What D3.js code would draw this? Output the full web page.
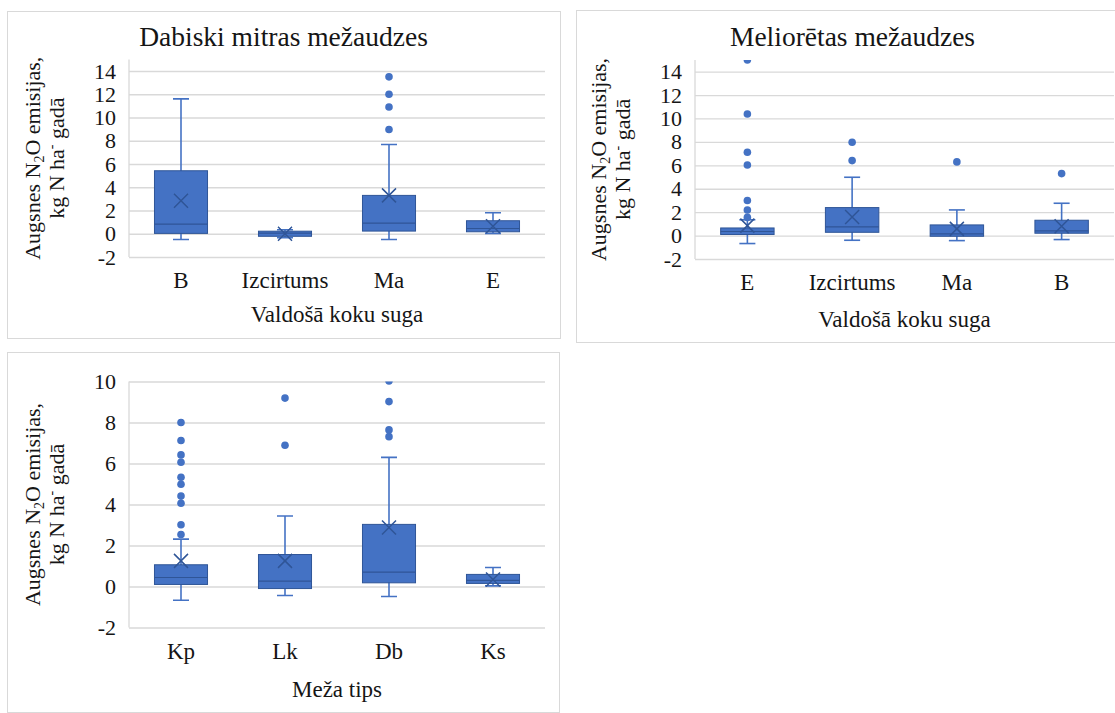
<!DOCTYPE html>
<html lang='lv'>
<head>
	<meta charset='UTF-8'/>
	<title>N2O emisijas</title>
	<script src='https://cdnjs.cloudflare.com/ajax/libs/d3/7.8.5/d3.min.js'></script>
	<style>
		body {margin: 0; background: #fff;}
		svg {display: block;}
		svg text {font-family: 'Liberation Serif', 'Times New Roman', 'DejaVu Serif', serif;}
	</style>
</head>
<body>
	<div class='graph'></div>
	<script>
		// --- data (kg N ha-1 gadā) ---
		// panel 1: Dabiski mitras mežaudzes
		const p1Categories = ['B', 'Izcirtums', 'Ma', 'E'];
		const p1Low    = [-0.49, -0.35, -0.49, 0.03];
		const p1Q1     = [0.03, -0.22, 0.23, 0.17];
		const p1Median = [0.83, 0.05, 0.92, 0.45];
		const p1Q3     = [5.42, 0.22, 3.3, 1.12];
		const p1High   = [11.6, 0.35, 7.68, 1.81];
		const p1Mean   = [2.84, 0.0, 3.3, 0.65];
		const p1Outliers = [[], [], [8.97, 10.9, 12.0, 13.5], []];

		// panel 2: Meliorētas mežaudzes
		const p2Categories = ['E', 'Izcirtums', 'Ma', 'B'];
		const p2Low    = [-0.68, -0.4, -0.43, -0.34];
		const p2Q1     = [0.09, 0.28, -0.06, 0.2];
		const p2Median = [0.35, 0.74, 0.15, 0.4];
		const p2Q3     = [0.65, 2.39, 0.91, 1.31];
		const p2High   = [1.35, 4.98, 2.19, 2.76];
		const p2Mean   = [0.85, 1.59, 0.57, 0.8];
		const p2Outliers = [[1.55, 2.19, 2.99, 6.03, 7.11, 10.38, 15.0], [6.4, 7.97], [6.29], [5.29]];

		// panel 3: meža tips
		const p3Categories = ['Kp', 'Lk', 'Db', 'Ks'];
		const p3Low    = [-0.67, -0.44, -0.49, 0.03];
		const p3Q1     = [0.1, -0.1, 0.18, 0.15];
		const p3Median = [0.44, 0.26, 0.7, 0.3];
		const p3Q3     = [1.06, 1.56, 3.03, 0.59];
		const p3High   = [2.31, 3.44, 6.3, 0.93];
		const p3Mean   = [1.25, 1.25, 2.88, 0.34];
		const p3Outliers = [[2.54, 3.01, 4.06, 4.41, 4.99, 5.33, 6.06, 6.42, 7.12, 8.0], [6.89, 9.19], [7.31, 7.64, 9.02, 10.03], []];

		const ticks15 = [-2, 0, 2, 4, 6, 8, 10, 12, 14];
		const ticks10 = [-2, 0, 2, 4, 6, 8, 10];

		const width = 1115, height = 713;
		const BLUE = '#4472C4', DARK = '#2F5597', GRID = '#d9d9d9', INK = '#151515';
		const TICK_FONT = 22, CAT_FONT = 23, TITLE_FONT = 27.5;
		const SERIF = "'Liberation Serif', 'Times New Roman', 'DejaVu Serif', serif";

		function rows(cats, low, q1, med, q3, high, mean, out) {
			return cats.map((c, i) => ({cat: c, low: low[i], q1: q1[i], med: med[i], q3: q3[i], high: high[i], mean: mean[i], out: out[i]}));
		}

		const panels = [
			{frame: [7, 11, 553, 327], x: [129, 545], y: [257, 59.4], domain: [-2, 15], ticks: ticks15,
				title: 'Dabiski mitras mežaudzes', titleY: 46, xTitle: 'Valdošā koku suga', xTitleY: 322,
				cats: p1Categories, rows: rows(p1Categories, p1Low, p1Q1, p1Median, p1Q3, p1High, p1Mean, p1Outliers)},
			{frame: [576, 10, 553, 332], x: [695, 1114], y: [259, 59.9], domain: [-2, 15], ticks: ticks15,
				title: 'Meliorētas mežaudzes', titleY: 46, xTitle: 'Valdošā koku suga', xTitleY: 327,
				cats: p2Categories, rows: rows(p2Categories, p2Low, p2Q1, p2Median, p2Q3, p2High, p2Mean, p2Outliers)},
			{frame: [7, 352, 552, 360], x: [129, 545], y: [627.5, 381.5], domain: [-2, 10], ticks: ticks10,
				title: null, xTitle: 'Meža tips', xTitleY: 697,
				cats: p3Categories, rows: rows(p3Categories, p3Low, p3Q1, p3Median, p3Q3, p3High, p3Mean, p3Outliers)}
		];

		const svg = d3.select('.graph')
			.append('svg')
			.attr('width', width)
			.attr('height', height)
			.attr('font-family', SERIF);

		svg.append('rect').attr('width', width).attr('height', height).attr('fill', '#fff');

		panels.forEach((p, pi) => {
			const g = svg.append('g');
			const [fx, fy, fw, fh] = p.frame;

			g.append('rect')
				.attr('x', fx + 0.5).attr('y', fy + 0.5)
				.attr('width', fw).attr('height', fh)
				.attr('fill', '#fff')
				.attr('stroke', GRID);

			const yScale = d3.scaleLinear().domain(p.domain).range(p.y);
			const xScale = d3.scaleBand().domain(p.cats).range(p.x);
			const bw = xScale.bandwidth();
			const boxW = bw * 0.51;
			const cx = d => xScale(d.cat) + bw / 2;

			// gridlines + tick labels
			const yAxis = g.append('g')
				.attr('transform', 'translate(' + p.x[0] + ',0)')
				.call(d3.axisLeft(yScale).tickValues(p.ticks).tickSize(-(p.x[1] - p.x[0])).tickPadding(13)
					.tickFormat(d => String(d)));
			yAxis.attr('font-family', SERIF).attr('font-size', TICK_FONT);
			yAxis.select('.domain').remove();
			yAxis.selectAll('line').attr('stroke', GRID).attr('stroke-width', 1.3);
			yAxis.selectAll('text').attr('fill', INK);

			// vertical axis line
			g.append('line')
				.attr('x1', p.x[0]).attr('x2', p.x[0])
				.attr('y1', yScale(p.domain[1])).attr('y2', yScale(p.domain[0]))
				.attr('stroke', GRID).attr('stroke-width', 1.3);

			// category labels
			const xAxis = g.append('g')
				.attr('transform', 'translate(0,' + yScale(p.domain[0]) + ')')
				.call(d3.axisBottom(xScale).tickSize(0).tickPadding(15));
			xAxis.attr('font-family', SERIF).attr('font-size', CAT_FONT);
			xAxis.select('.domain').remove();
			xAxis.selectAll('text').attr('fill', INK);

			// titles
			if (p.title) {
				g.append('text')
					.attr('x', fx + fw / 2).attr('y', p.titleY)
					.attr('text-anchor', 'middle')
					.attr('font-size', TITLE_FONT).attr('fill', INK)
					.text(p.title);
			}
			g.append('text')
				.attr('x', (p.x[0] + p.x[1]) / 2).attr('y', p.xTitleY)
				.attr('text-anchor', 'middle')
				.attr('font-size', CAT_FONT).attr('fill', INK)
				.text(p.xTitle);

			// rotated y title, two lines
			const cy = (p.y[0] + p.y[1]) / 2;
			const t1 = g.append('text')
				.attr('transform', 'translate(' + (p.x[0] - 89) + ',' + cy + ') rotate(-90)')
				.attr('text-anchor', 'middle')
				.attr('font-size', TICK_FONT).attr('fill', INK);
			t1.append('tspan').text('Augsnes N');
			t1.append('tspan').attr('font-size', 14).attr('dy', 4).text('2');
			t1.append('tspan').attr('dy', -4).text('O emisijas,');
			const t2 = g.append('text')
				.attr('transform', 'translate(' + (p.x[0] - 65) + ',' + cy + ') rotate(-90)')
				.attr('text-anchor', 'middle')
				.attr('font-size', TICK_FONT).attr('fill', INK);
			t2.append('tspan').text('kg N ha');
			t2.append('tspan').attr('font-size', 14).attr('dy', -8).text('-');
			t2.append('tspan').attr('dy', 8).text(' gadā');

			// clip for marks
			const clipId = 'clip' + pi;
			svg.append('clipPath').attr('id', clipId)
				.append('rect')
				.attr('x', p.x[0]).attr('y', yScale(p.domain[1]))
				.attr('width', p.x[1] - p.x[0]).attr('height', yScale(p.domain[0]) - yScale(p.domain[1]));

			const marks = g.append('g').attr('clip-path', 'url(#' + clipId + ')');
			const box = marks.selectAll('g.box')
				.data(p.rows)
				.enter()
				.append('g')
				.attr('class', 'box');

			// whiskers
			box.append('line')
				.attr('x1', cx).attr('x2', cx)
				.attr('y1', d => yScale(d.high)).attr('y2', d => yScale(d.low))
				.attr('stroke', BLUE).attr('stroke-width', 1.6);
			['high', 'low'].forEach(k => {
				box.append('line')
					.attr('x1', d => cx(d) - 8).attr('x2', d => cx(d) + 8)
					.attr('y1', d => yScale(d[k])).attr('y2', d => yScale(d[k]))
					.attr('stroke', BLUE).attr('stroke-width', 1.6);
			});

			// boxes
			box.append('rect')
				.attr('x', d => cx(d) - boxW / 2)
				.attr('y', d => yScale(d.q3))
				.attr('width', boxW)
				.attr('height', d => yScale(d.q1) - yScale(d.q3))
				.attr('fill', BLUE)
				.attr('stroke', DARK).attr('stroke-width', 1);

			// median
			box.append('line')
				.attr('x1', d => cx(d) - boxW / 2).attr('x2', d => cx(d) + boxW / 2)
				.attr('y1', d => yScale(d.med)).attr('y2', d => yScale(d.med))
				.attr('stroke', DARK).attr('stroke-width', 1.2);

			// mean marker (x)
			box.append('path')
				.attr('d', d => {
					const x = cx(d), y = yScale(d.mean), s = 7;
					return 'M' + (x - s) + ',' + (y - s) + 'L' + (x + s) + ',' + (y + s) +
						'M' + (x - s) + ',' + (y + s) + 'L' + (x + s) + ',' + (y - s);
				})
				.attr('stroke', DARK).attr('stroke-width', 1.5).attr('fill', 'none');

			// outliers
			box.selectAll('circle')
				.data(d => d.out.map(v => ({cat: d.cat, v: v})))
				.enter()
				.append('circle')
				.attr('cx', cx)
				.attr('cy', d => yScale(d.v))
				.attr('r', 3.8)
				.attr('fill', BLUE);
		});
	</script>
</body>
</html>
